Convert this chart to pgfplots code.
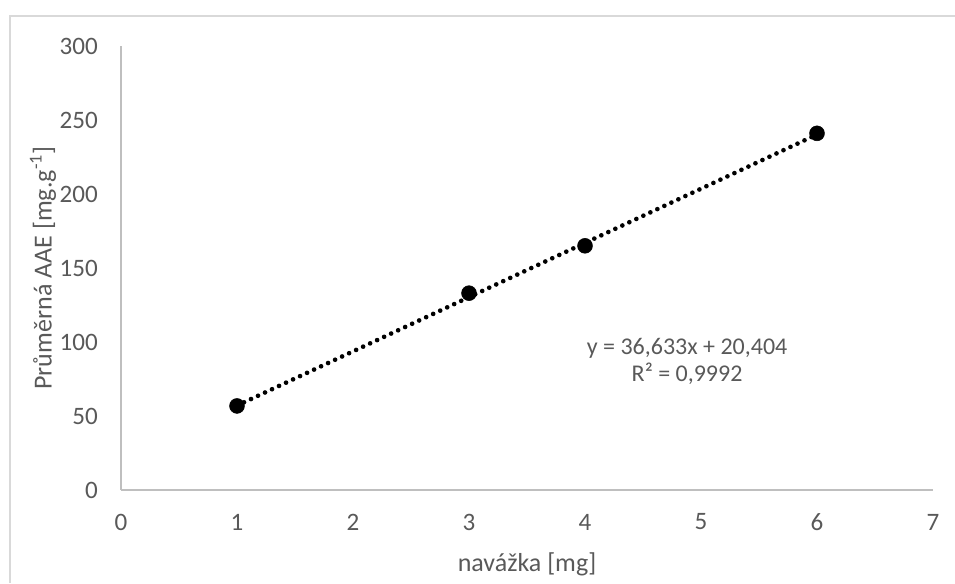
\documentclass[border=0pt]{standalone}
\usepackage{fontspec}
\setmainfont{Carlito}
\usepackage{pgfplots}
\pgfplotsset{compat=1.18}
\definecolor{axisgray}{RGB}{191,191,191}
\definecolor{textgray}{RGB}{89,89,89}
\definecolor{framegray}{RGB}{217,217,217}

\begin{document}
\fontsize{18.8}{23}\selectfont
\begin{tikzpicture}[x=0.75pt,y=0.75pt]
  \path[use as bounding box] (0,0) rectangle (955,583);
  % chart area frame (cropped at right and bottom)
  \draw[framegray, line width=1.5pt] (10,0) -- (10,567) -- (955,567);
  \begin{axis}[
      at={(90.75pt,69.75pt)}, anchor=south west,
      width=609pt, height=333pt, scale only axis,
      xmin=0, xmax=7, ymin=0, ymax=300,
      xtick={0,1,2,3,4,5,6,7},
      ytick={0,50,100,150,200,250,300},
      axis x line=bottom, axis y line=left,
      axis line style={axisgray, line width=1pt, -},
      major tick length=0pt,
      /pgf/number format/assume math mode=true,
      tick label style={textgray, font=\fontsize{18.8}{23}\selectfont},
      xticklabel style={anchor=center, yshift=-24pt},
      yticklabel style={anchor=east, xshift=-11pt},
      xlabel={navážka [mg]},
      ylabel={Průměrná AAE [mg.g\textsuperscript{-1}]},
      label style={textgray, font=\fontsize{19.5}{23}\selectfont},
      xlabel style={at={(axis cs:3.5,0)}, anchor=center, yshift=-56pt},
      ylabel style={at={(axis description cs:-0.096,0.5)}, anchor=center},
    ]
    % linear trendline y = 36,633x + 20,404 over the data range
    \addplot[black, line width=3.5pt, line cap=round, dash pattern=on 0pt off 5.8pt]
      coordinates {(1,57.037) (6,240.202)};
    \addplot[only marks, mark=*, mark size=5.6pt, black]
      coordinates {(1,56.8) (3,133) (4,165) (6,241)};
    \node[textgray, align=center, font=\fontsize{18}{20}\selectfont]
      at (axis cs:4.88,87) {y = 36,633x + 20,404\\R² = 0,9992};
  \end{axis}
\end{tikzpicture}
\end{document}
